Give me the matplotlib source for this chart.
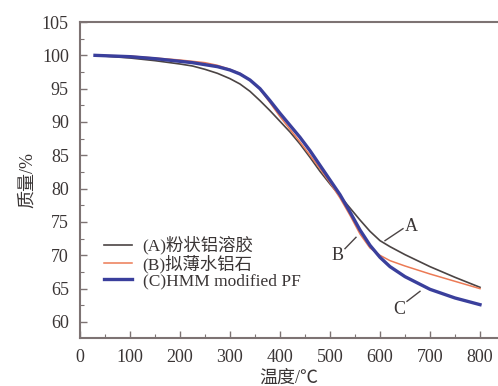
import numpy as np
import matplotlib.pyplot as plt
import matplotlib as mpl
from matplotlib.ticker import MultipleLocator

# temperatures (C) and mass (%)
temp = [30, 100, 150, 200, 225, 250, 275, 300, 320, 340, 360, 380, 400, 420,
        440, 460, 480, 500, 520, 540, 560, 580, 600, 620, 650, 700, 750, 800]
mass_a = [100, 99.6, 99.2, 98.7, 98.4, 97.9, 97.3, 96.5, 95.7, 94.6, 93.2,
          91.7, 90.1, 88.5, 86.7, 84.7, 82.6, 80.7, 78.9, 77.1, 75.3, 73.6,
          72.2, 71.3, 70.1, 68.3, 66.7, 65.2]
mass_b = [100, 99.9, 99.6, 99.3, 99.1, 98.9, 98.5, 97.9, 97.3, 96.3, 94.9,
          92.9, 90.8, 88.9, 87.0, 85.0, 83.0, 80.9, 78.6, 76.0, 73.2, 71.1,
          70.0, 69.2, 68.4, 67.2, 66.1, 65.0]
mass_c = [100, 99.8, 99.5, 99.1, 98.9, 98.6, 98.3, 97.8, 97.2, 96.3, 95.0,
          93.2, 91.3, 89.5, 87.7, 85.7, 83.5, 81.3, 79.1, 76.5, 73.8, 71.5,
          69.7, 68.3, 66.8, 64.9, 63.6, 62.6]

labels = ['(A)粉状铝溶胶', '(B)拟薄水铝石', '(C)HMM modified PF']

mpl.rcParams['font.family'] = ['Liberation Serif', 'Noto Sans CJK SC']
mpl.rcParams['font.size'] = 13

spine_col = '#7d7373'
text_col = '#3a3535'

fig = plt.figure(figsize=(4.98, 3.86), dpi=100)
ax = fig.add_axes([0.1606, 0.1244, 0.8394, 0.8186])

ax.plot(temp, mass_a, color='#4b4444', lw=1.2, label=labels[0])
ax.plot(temp, mass_b, color='#ec7a55', lw=1.1, label=labels[1])
ax.plot(temp, mass_c, color='#3a3f9c', lw=2.4, label=labels[2])

ax.set_xlim(0, 836)
ax.set_ylim(57.6, 105)
ax.xaxis.set_minor_locator(MultipleLocator(50))
ax.yaxis.set_major_locator(MultipleLocator(5))
ax.yaxis.set_minor_locator(MultipleLocator(2.5))
ax.set_xticks(np.arange(0, 801, 100))
ax.tick_params(which='both', direction='in', color=spine_col, labelcolor=text_col,
               top=False, right=False)
ax.tick_params(which='major', length=5, width=1.0)
ax.tick_params(which='minor', length=3, width=0.8)
ax.tick_params(axis='y', pad=8)
ax.tick_params(axis='x', pad=8)

ax.spines['right'].set_visible(False)
for s in ['left', 'bottom', 'top']:
    ax.spines[s].set_color(spine_col)
    ax.spines[s].set_linewidth(1.5)

ax.set_xlabel('温度/℃', color=text_col, labelpad=3)
ax.set_ylabel('质量/%', color=text_col, labelpad=4)

# curve labels with leader lines
ax.plot([610, 646], [72.2, 74.0], color='#4b4444', lw=1)
ax.text(650, 74.3, 'A', color=text_col, va='center', ha='left')
ax.plot([530, 552], [71.0, 72.7], color='#4b4444', lw=1)
ax.text(527, 69.9, 'B', color=text_col, va='center', ha='right')
ax.plot([654, 680], [63.1, 64.6], color='#4b4444', lw=1)
ax.text(650, 61.8, 'C', color=text_col, va='center', ha='right')

leg = ax.legend(loc='upper left', bbox_to_anchor=(0.04, 0.345), frameon=False,
                handlelength=1.65, handletextpad=0.6, labelspacing=0.0,
                borderaxespad=0, fontsize=12.5)
for t in leg.get_texts():
    t.set_color(text_col)

plt.savefig('out.png', dpi=100)
